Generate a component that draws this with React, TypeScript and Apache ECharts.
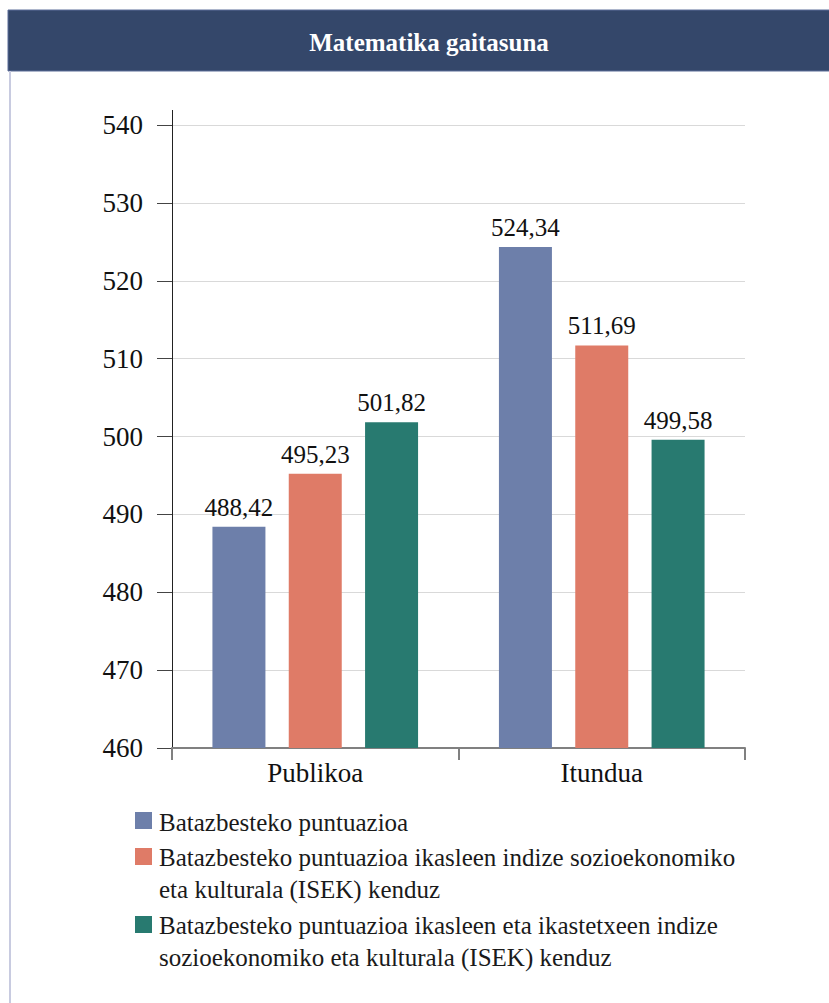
import React, { useEffect, useRef } from "react";
import * as echarts from "echarts";

const title = "Matematika gaitasuna";
const categories = ["Publikoa", "Itundua"];
const seriesNames = [
  "Batazbesteko puntuazioa",
  "Batazbesteko puntuazioa ikasleen indize sozioekonomiko eta kulturala (ISEK) kenduz",
  "Batazbesteko puntuazioa ikasleen eta ikastetxeen indize sozioekonomiko eta kulturala (ISEK) kenduz",
];
const legendLines = [
  ["Batazbesteko puntuazioa"],
  ["Batazbesteko puntuazioa ikasleen indize sozioekonomiko", "eta kulturala (ISEK) kenduz"],
  ["Batazbesteko puntuazioa ikasleen eta ikastetxeen indize", "sozioekonomiko eta kulturala (ISEK) kenduz"],
];
const batazbestekoa = [488.42, 524.34];
const ikasleenIsekKenduz = [495.23, 511.69];
const ikasleIkastetxeIsekKenduz = [501.82, 499.58];
const seriesValues = [batazbestekoa, ikasleenIsekKenduz, ikasleIkastetxeIsekKenduz];
const colors = ["#6d7faa", "#df7b67", "#287a70"];
const yMin = 460;
const yMax = 540;
const yStep = 10;

const FONT = "Liberation Serif";

export default function App() {
  const ref = useRef<HTMLDivElement>(null);
  useEffect(() => {
    document.body.style.margin = "0";
    if (!ref.current) return;
    const el = ref.current;
    const chart = echarts.init(el, undefined, { renderer: "svg" });

    const legendGraphics: any[] = [];
    const legendTops = [806, 841, 909];
    const squareTops = [812, 848, 916];
    legendLines.forEach((lines, i) => {
      legendGraphics.push({
        type: "rect",
        shape: { x: 135, y: squareTops[i], width: 17, height: 17 },
        style: { fill: colors[i] },
      });
      legendGraphics.push({
        type: "text",
        x: 159,
        y: legendTops[i],
        style: {
          text: lines.join("\n"),
          fontFamily: FONT,
          fontSize: 25,
          fill: "#1a1a1a",
          lineHeight: 32,
          verticalAlign: "top",
          align: "left",
        },
      });
    });

    const applyFont = () => {
      el.querySelectorAll("text").forEach((t) => {
        (t as SVGTextElement).style.setProperty("font-family", '"Liberation Serif", serif', "important");
      });
    };
    chart.on("finished", applyFont);

    chart.setOption({
      animation: false,
      textStyle: { fontFamily: FONT },
      grid: { left: 172, right: 84, top: 125, bottom: 255, containLabel: false },
      xAxis: {
        type: "category",
        data: categories,
        axisLine: { show: true, lineStyle: { color: "#808080", width: 2 } },
        axisTick: { show: true, length: 12, lineStyle: { color: "#808080", width: 2 } },
        axisLabel: { fontFamily: FONT, fontSize: 27, color: "#111", margin: 11 },
      },
      yAxis: {
        type: "value",
        min: yMin,
        max: yMax,
        interval: yStep,
        axisLine: { show: true, lineStyle: { color: "#222", width: 1 } },
        axisTick: { show: true, length: 15, lineStyle: { color: "#444", width: 1 } },
        axisLabel: { fontFamily: FONT, fontSize: 27, color: "#111", margin: 29 },
        splitLine: { show: true, lineStyle: { color: "#d9d9d9", width: 1 } },
      },
      series: seriesNames.map((name, i) => ({
        type: "bar",
        name,
        data: seriesValues[i],
        barWidth: 53,
        barGap: "44%",
        itemStyle: { color: colors[i] },
        label: {
          show: true,
          position: "top",
          distance: 7,
          fontFamily: FONT,
          fontSize: 25,
          color: "#111",
          formatter: (p: any) => Number(p.value).toFixed(2).replace(".", ","),
        },
      })),
      graphic: [
        {
          type: "rect",
          shape: { x: 8, y: 10, width: 830, height: 61 },
          style: { fill: "#34476a", stroke: "#5a6d98", lineWidth: 1 },
        },
        {
          type: "text",
          x: 429,
          y: 42,
          style: {
            text: title,
            fontFamily: FONT,
            fontSize: 25,
            fontWeight: "bold",
            fill: "#ffffff",
            align: "center",
            verticalAlign: "middle",
          },
        },
        {
          type: "line",
          shape: { x1: 10, y1: 71, x2: 10, y2: 1003 },
          style: { stroke: "#c8cbe0", lineWidth: 2 },
        },
        {
          type: "line",
          shape: { x1: 172.5, y1: 110, x2: 172.5, y2: 126 },
          style: { stroke: "#222", lineWidth: 1 },
        },
        ...legendGraphics,
      ],
    });
    applyFont();
    const timer = window.setTimeout(applyFont, 50);
    return () => {
      window.clearTimeout(timer);
      chart.dispose();
    };
  }, []);
  return <div ref={ref} style={{ width: 829, height: 1003 }} />;
}
